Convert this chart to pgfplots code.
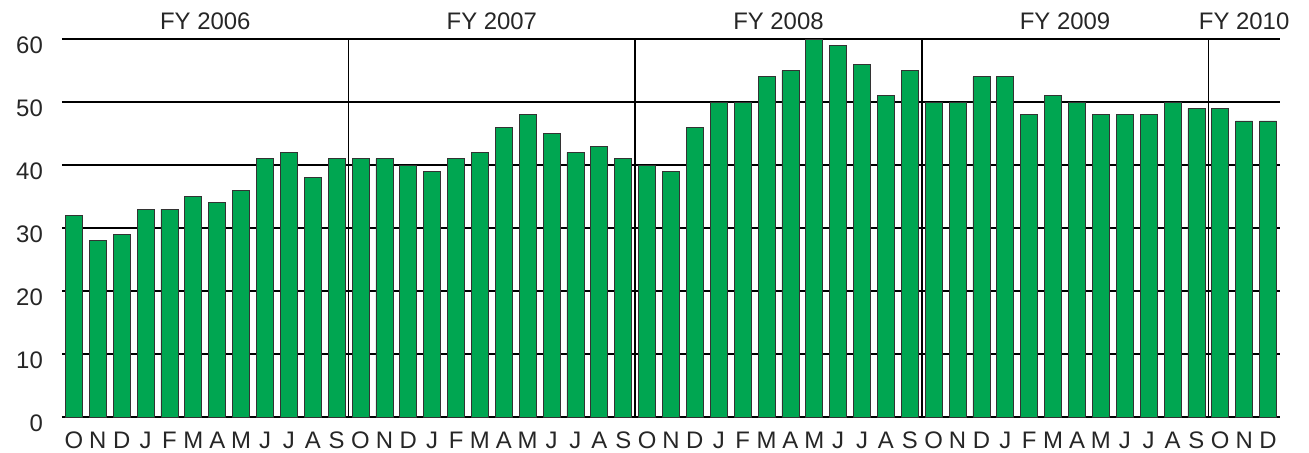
\documentclass[border=0pt]{standalone}
\usepackage{fontspec}
\setmainfont{Liberation Sans}
\usepackage{pgfplots}
\pgfplotsset{compat=1.18}
\definecolor{barg}{RGB}{0,166,81}
\begin{document}
\fontsize{24}{28}\selectfont
\begin{tikzpicture}
\begin{axis}[
  at={(0,0)}, anchor=south west,
  scale only axis, width=1218bp, height=378bp,
  xmin=-0.5, xmax=50.5, ymin=0, ymax=60,
  axis x line=bottom, axis y line=left,
  y axis line style={draw=none},
  x axis line style={-, black, line width=1.8bp},
  major tick length=0pt,
  ytick={0,10,20,30,40,50,60},
  ymajorgrids,
  grid style={black, line width=1.4bp},
  xtick={0,...,50},
  xticklabels={O,N,D,J,F,M,A,M,J,J,A,S,O,N,D,J,F,M,A,M,J,J,A,S,O,N,D,J,F,M,A,M,J,J,A,S,O,N,D,J,F,M,A,M,J,J,A,S,O,N,D},
  extra x ticks={11.5,23.5,35.5,47.5},
  extra x tick labels={},
  extra x tick style={xmajorgrids, major grid style={black, line width=1.6bp}},
  /pgf/number format/assume math mode=true,
  tick label style={font=\fontsize{24}{28}\selectfont, text=black!85},
  yticklabel style={xshift=-11bp, yshift=-6bp},
  xticklabel style={yshift=-7bp},
  clip=false,
]
\addplot[ybar, bar width=17bp, fill=barg, draw=black!80, line width=0.8bp] coordinates {
(0,32) (1,28) (2,29) (3,33) (4,33) (5,35) (6,34) (7,36) (8,41) (9,42) (10,38) (11,41)
(12,41) (13,41) (14,40) (15,39) (16,41) (17,42) (18,46) (19,48) (20,45) (21,42) (22,43) (23,41)
(24,40) (25,39) (26,46) (27,50) (28,50) (29,54) (30,55) (31,60) (32,59) (33,56) (34,51) (35,55)
(36,50) (37,50) (38,54) (39,54) (40,48) (41,51) (42,50) (43,48) (44,48) (45,48) (46,50) (47,49)
(48,49) (49,47) (50,47)
};
\node[anchor=base, text=black!85, yshift=10bp] at (axis cs:5.5,60) {FY 2006};
\node[anchor=base, text=black!85, yshift=10bp] at (axis cs:17.5,60) {FY 2007};
\node[anchor=base, text=black!85, yshift=10bp] at (axis cs:29.5,60) {FY 2008};
\node[anchor=base, text=black!85, yshift=10bp] at (axis cs:41.5,60) {FY 2009};
\node[anchor=base, text=black!85, yshift=10bp] at (axis cs:49,60) {FY 2010};
\end{axis}
\pgfresetboundingbox
\path[use as bounding box] (-62bp,-36bp) rectangle (1247bp,417bp);
\end{tikzpicture}
\end{document}
